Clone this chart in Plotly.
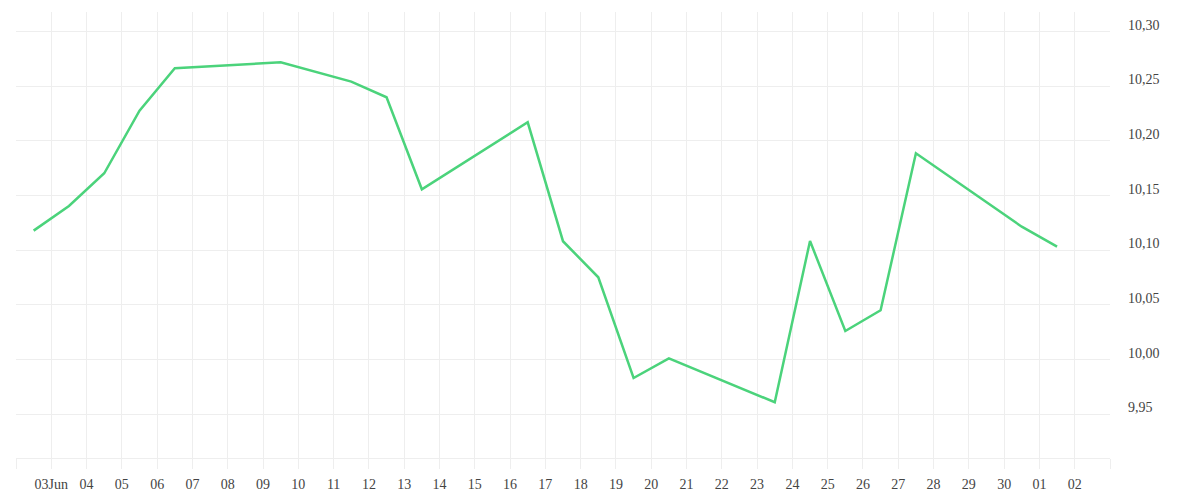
import plotly.graph_objects as go

dates = [
    "2024-06-02 12:00", "2024-06-03 12:00", "2024-06-04 12:00", "2024-06-05 12:00",
    "2024-06-06 12:00", "2024-06-09 12:00", "2024-06-11 12:00", "2024-06-12 12:00",
    "2024-06-13 12:00", "2024-06-16 12:00", "2024-06-17 12:00", "2024-06-18 12:00",
    "2024-06-19 12:00", "2024-06-20 12:00", "2024-06-23 12:00", "2024-06-24 12:00",
    "2024-06-25 12:00", "2024-06-26 12:00", "2024-06-27 12:00", "2024-06-30 12:00",
    "2024-07-01 12:00",
]
values = [
    10.118, 10.1405, 10.1705, 10.2277, 10.2665, 10.272, 10.2543, 10.240,
    10.1558, 10.2171, 10.1083, 10.0753, 9.9832, 10.0012, 9.961, 10.1085,
    10.0262, 10.0451, 10.1888, 10.1216, 10.1033,
]

tick_dates = [f"2024-06-{d:02d}" for d in range(2, 31)] + ["2024-07-01", "2024-07-02", "2024-07-03"]
tick_labels = [""] + ["03Jun"] + [f"{d:02d}" for d in range(4, 31)] + ["01", "02", ""]
y_ticks = [9.95, 10.00, 10.05, 10.10, 10.15, 10.20, 10.25, 10.30]

grid = "#eeeeee"
font = dict(family="Liberation Serif", size=14, color="#444444")

fig = go.Figure()
fig.add_trace(go.Scatter(
    x=dates, y=values, mode="lines",
    line=dict(color="#4bd37b", width=2.5),
    showlegend=False, hoverinfo="skip",
))

fig.update_layout(
    width=1200, height=500,
    margin=dict(l=8, r=98, t=4, b=50),
    paper_bgcolor="white", plot_bgcolor="white",
    separators=",.",
    font=font,
    xaxis=dict(
        type="date",
        range=["2024-06-02", "2024-07-03"],
        tickvals=tick_dates, ticktext=tick_labels,
        showgrid=True, gridcolor=grid, gridwidth=1,
        ticks="outside", ticklen=10, tickcolor=grid, tickwidth=1,
        showline=True, linecolor=grid, linewidth=1,
        zeroline=False, tickfont=font,
        ticklabelstandoff=3,
    ),
    yaxis=dict(
        side="right",
        range=[9.910, 10.318],
        tickvals=y_ticks, tickformat=".2f",
        showgrid=True, gridcolor=grid, gridwidth=1,
        ticks="", zeroline=False,
        ticklabelposition="outside",
        ticklabelshift=-7,
        ticklabelstandoff=17,
        tickfont=font,
    ),
)

fig.write_html("out.html")
